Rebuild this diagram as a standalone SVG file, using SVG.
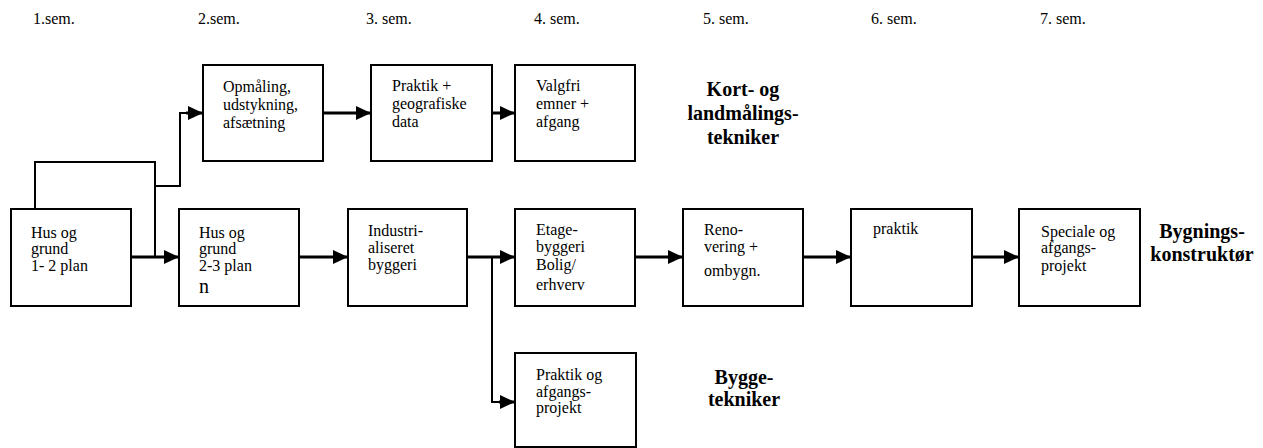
<svg xmlns="http://www.w3.org/2000/svg" width="1263" height="448" viewBox="0 0 1263 448">
<style>
.box{fill:#fff;stroke:#000;stroke-width:2}
text{font-family:'Liberation Serif','Times New Roman',Times,'DejaVu Serif',serif;fill:#000}
.t{font-size:16px}
.sem{font-size:16px}
.b{font-size:20px;font-weight:bold;text-anchor:middle}
.thick{fill:none;stroke:#000;stroke-width:3}
.thin{fill:none;stroke:#000;stroke-width:2}
</style>
<defs>
<marker id="ah" markerWidth="15" markerHeight="14" refX="15" refY="7" orient="auto" markerUnits="userSpaceOnUse">
<path d="M0,0 L15,7 L0,14 Z" fill="#000"/>
</marker>
</defs>
<rect width="1263" height="448" fill="#fff"/>
<g id="semesters">
<text class="sem" x="33" y="24">1.sem.</text>
<text class="sem" x="198" y="24">2.sem.</text>
<text class="sem" x="366" y="24">3. sem.</text>
<text class="sem" x="534" y="24">4. sem.</text>
<text class="sem" x="703" y="24">5. sem.</text>
<text class="sem" x="871" y="24">6. sem.</text>
<text class="sem" x="1040" y="24">7. sem.</text>
</g>
<g id="connectors">
<path class="thin" d="M35,209 V162 H155 V257"/>
<path class="thin" d="M155,186 H180 V113 H186"/>
<path class="thick" d="M186,113 H203" marker-end="url(#ah)"/>
<path class="thick" d="M131,257 H179" marker-end="url(#ah)"/>
<path class="thick" d="M299,257 H348" marker-end="url(#ah)"/>
<path class="thick" d="M323,113 H371" marker-end="url(#ah)"/>
<path class="thick" d="M492,113 H515" marker-end="url(#ah)"/>
<path class="thick" d="M467,257 H515" marker-end="url(#ah)"/>
<path class="thin" d="M492,257 V402 H500"/>
<path class="thick" d="M499,402 H515" marker-end="url(#ah)"/>
<path class="thick" d="M635,257 H683" marker-end="url(#ah)"/>
<path class="thick" d="M803,257 H851" marker-end="url(#ah)"/>
<path class="thick" d="M972,257 H1019" marker-end="url(#ah)"/>
</g>
<g id="n1">
<rect class="box" x="11" y="209" width="120" height="97"/>
<text class="t" x="31" y="238">Hus og</text>
<text class="t" x="31" y="254">grund</text>
<text class="t" x="31" y="271">1- 2 plan</text>
</g>
<g id="n2">
<rect class="box" x="179" y="209" width="120" height="97"/>
<text class="t" x="199" y="238">Hus og</text>
<text class="t" x="199" y="254">grund</text>
<text class="t" x="199" y="271">2-3 plan</text>
<text class="t" x="199" y="293" style="font-size:20px">n</text>
</g>
<g id="n3">
<rect class="box" x="348" y="209" width="119" height="97"/>
<text class="t" x="368" y="236">Industri-</text>
<text class="t" x="368" y="253">aliseret</text>
<text class="t" x="368" y="270">byggeri</text>
</g>
<g id="n4">
<rect class="box" x="515" y="209" width="120" height="97"/>
<text class="t" x="536" y="235">Etage-</text>
<text class="t" x="536" y="252">byggeri</text>
<text class="t" x="536" y="270">Bolig/</text>
<text class="t" x="536" y="290">erhverv</text>
</g>
<g id="n5">
<rect class="box" x="683" y="209" width="120" height="97"/>
<text class="t" x="704" y="235">Reno-</text>
<text class="t" x="704" y="252">vering +</text>
<text class="t" x="704" y="276">ombygn.</text>
</g>
<g id="n6">
<rect class="box" x="851" y="209" width="121" height="97"/>
<text class="t" x="873" y="234">praktik</text>
</g>
<g id="n7">
<rect class="box" x="1019" y="209" width="121" height="97"/>
<text class="t" x="1041" y="237">Speciale og</text>
<text class="t" x="1041" y="253">afgangs-</text>
<text class="t" x="1041" y="271">projekt</text>
</g>
<g id="n8">
<rect class="box" x="203" y="65" width="120" height="96"/>
<text class="t" x="223" y="92">Opmåling,</text>
<text class="t" x="223" y="110">udstykning,</text>
<text class="t" x="223" y="128">afsætning</text>
</g>
<g id="n9">
<rect class="box" x="371" y="65" width="121" height="96"/>
<text class="t" x="392" y="91">Praktik +</text>
<text class="t" x="392" y="109">geografiske</text>
<text class="t" x="392" y="127">data</text>
</g>
<g id="n10">
<rect class="box" x="515" y="65" width="120" height="96"/>
<text class="t" x="536" y="91">Valgfri</text>
<text class="t" x="536" y="109">emner +</text>
<text class="t" x="536" y="127">afgang</text>
</g>
<g id="n11">
<rect class="box" x="515" y="353" width="121" height="94"/>
<text class="t" x="536" y="380">Praktik og</text>
<text class="t" x="536" y="397">afgangs-</text>
<text class="t" x="536" y="413">projekt</text>
</g>
<g id="labels">
<text class="b" x="743" y="96">Kort- og</text>
<text class="b" x="743" y="120">landmålings-</text>
<text class="b" x="743" y="144">tekniker</text>
<text class="b" x="1202" y="238">Bygnings-</text>
<text class="b" x="1202" y="261">konstruktør</text>
<text class="b" x="744" y="384">Bygge-</text>
<text class="b" x="744" y="406">tekniker</text>
</g>
</svg>
